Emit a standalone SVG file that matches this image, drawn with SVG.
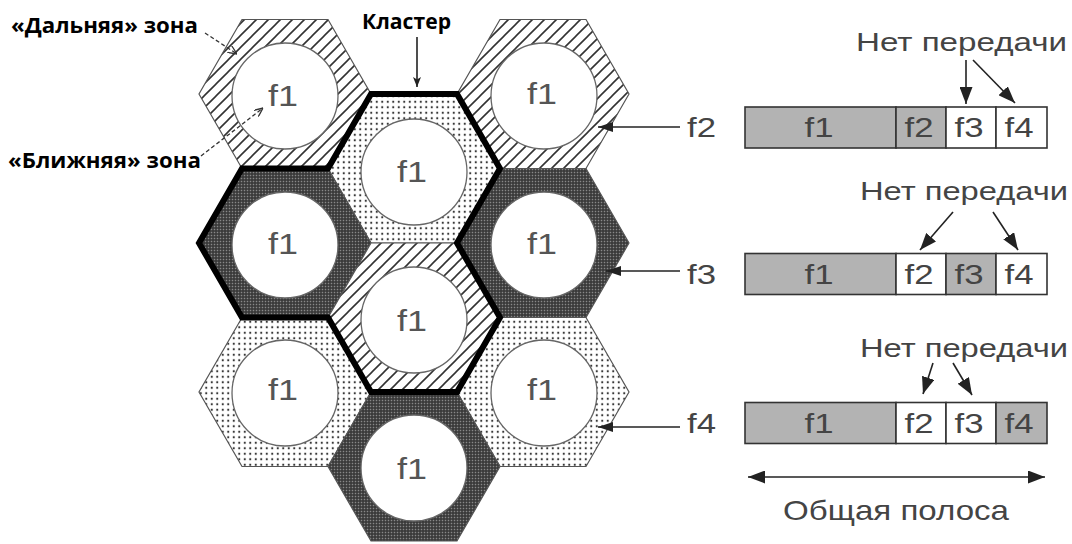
<svg xmlns="http://www.w3.org/2000/svg" width="1072" height="544" viewBox="0 0 1072 544">
<style>
.hex{stroke:#555;stroke-width:1.2}
.cir{fill:#fff;stroke:#666;stroke-width:1.3}
.ft{font-family:"Liberation Sans",Arial,sans-serif;font-size:29px;fill:#555;text-anchor:middle}
.bt{font-family:"Liberation Sans",Arial,sans-serif;font-size:28px;fill:#444;text-anchor:middle}
.lt{font-family:"Liberation Sans",Arial,sans-serif;font-size:28px;fill:#444}
.nt{font-family:"Liberation Sans",Arial,sans-serif;font-size:26px;fill:#444}
.bold{font-family:"Open Sans","Noto Sans",sans-serif;font-weight:700;font-size:21px;fill:#000}
.seg{stroke:#333;stroke-width:1.6}
.gray{fill:#b3b3b3}
.white{fill:#fff}
.ar{stroke:#222;stroke-width:1.6;fill:none}
.dash{stroke:#333;stroke-width:1.3;fill:none;stroke-dasharray:4 2.5}
</style>
<defs>
<pattern id="hatch" patternUnits="userSpaceOnUse" width="12" height="12">
<rect width="12" height="12" fill="#fff"/>
<path d="M0,12 L12,0 M-3,3 L3,-3 M9,15 L15,9" stroke="#333" stroke-width="1.6"/>
</pattern>
<pattern id="dark" patternUnits="userSpaceOnUse" width="3" height="3">
<rect width="3" height="3" fill="#363636"/>
<rect x="0.75" y="0.75" width="1.5" height="1.5" fill="#888"/>
</pattern>
<pattern id="dots" patternUnits="userSpaceOnUse" width="5.5" height="5.5">
<rect width="5.5" height="5.5" fill="#fff"/>
<circle cx="2.75" cy="2.75" r="1.1" fill="#333"/>
</pattern>
<marker id="big" markerUnits="userSpaceOnUse" markerWidth="17" markerHeight="13" refX="17" refY="6.5" orient="auto-start-reverse">
<path d="M0,0 L17,6.5 L0,13 z" fill="#222"/>
</marker>
<marker id="mid" markerUnits="userSpaceOnUse" markerWidth="15" markerHeight="10" refX="15" refY="5" orient="auto">
<path d="M0,0 L15,5 L0,10 z" fill="#222"/>
</marker>
<marker id="small" markerUnits="userSpaceOnUse" markerWidth="10" markerHeight="8" refX="10" refY="4" orient="auto">
<path d="M0,0 L10,4 L0,8 L2.5,4 z" fill="#222"/>
</marker>
<marker id="tiny" markerUnits="userSpaceOnUse" markerWidth="9" markerHeight="8" refX="9" refY="4" orient="auto">
<path d="M0,0 L9,4 L0,8" fill="none" stroke="#333" stroke-width="1.3"/>
</marker>
</defs>
<rect width="1072" height="544" fill="#fff"/>

<g id="hexA">
<polygon class="hex" fill="url(#hatch)" points="371,94 328,168.5 242,168.5 199,94 242,19.5 328,19.5"/>
<circle class="cir" cx="285" cy="96" r="53"/>
<text class="ft" x="283" y="106" textLength="30" lengthAdjust="spacingAndGlyphs">f1</text>
</g>
<g id="hexB">
<polygon class="hex" fill="url(#hatch)" points="629,94 586,168.5 500,168.5 457,94 500,19.5 586,19.5"/>
<circle class="cir" cx="544" cy="96" r="53"/>
<text class="ft" x="542" y="104" textLength="30" lengthAdjust="spacingAndGlyphs">f1</text>
</g>
<g id="hexC">
<polygon class="hex" fill="url(#dots)" points="500,168.5 457,243 371,243 328,168.5 371,94 457,94"/>
<circle class="cir" cx="414" cy="172" r="53"/>
<text class="ft" x="412" y="182" textLength="30" lengthAdjust="spacingAndGlyphs">f1</text>
</g>
<g id="hexD">
<polygon class="hex" fill="url(#dark)" points="371,243 328,317.5 242,317.5 199,243 242,168.5 328,168.5"/>
<circle class="cir" cx="285" cy="245" r="53"/>
<text class="ft" x="283" y="254" textLength="30" lengthAdjust="spacingAndGlyphs">f1</text>
</g>
<g id="hexE">
<polygon class="hex" fill="url(#dark)" points="629,243 586,317.5 500,317.5 457,243 500,168.5 586,168.5"/>
<circle class="cir" cx="544" cy="245" r="53"/>
<text class="ft" x="542" y="254" textLength="30" lengthAdjust="spacingAndGlyphs">f1</text>
</g>
<g id="hexF">
<polygon class="hex" fill="url(#hatch)" points="500,317.5 457,392 371,392 328,317.5 371,243 457,243"/>
<circle class="cir" cx="414" cy="320" r="53"/>
<text class="ft" x="412" y="331" textLength="30" lengthAdjust="spacingAndGlyphs">f1</text>
</g>
<g id="hexG">
<polygon class="hex" fill="url(#dots)" points="371,392 328,466.5 242,466.5 199,392 242,317.5 328,317.5"/>
<circle class="cir" cx="285" cy="393" r="53"/>
<text class="ft" x="283" y="400" textLength="30" lengthAdjust="spacingAndGlyphs">f1</text>
</g>
<g id="hexH">
<polygon class="hex" fill="url(#dots)" points="629,392 586,466.5 500,466.5 457,392 500,317.5 586,317.5"/>
<circle class="cir" cx="544" cy="393" r="53"/>
<text class="ft" x="542" y="400" textLength="30" lengthAdjust="spacingAndGlyphs">f1</text>
</g>
<g id="hexI">
<polygon class="hex" fill="url(#dark)" points="500,466.5 457,541 371,541 328,466.5 371,392 457,392"/>
<circle class="cir" cx="414" cy="468" r="53"/>
<text class="ft" x="412" y="479" textLength="30" lengthAdjust="spacingAndGlyphs">f1</text>
</g>

<g id="cluster">
<path d="M371,94 L457,94 L500,168.5 L457,243 L500,317.5 L457,392 L371,392 L328,317.5 L242,317.5 L199,243 L242,168.5 L328,168.5 Z" fill="none" stroke="#000" stroke-width="6" stroke-linejoin="miter"/>
</g>

<g id="labels-left">
<text class="bold" x="11" y="33" textLength="187" lengthAdjust="spacingAndGlyphs">«Дальняя» зона</text>
<text class="bold" x="8" y="168" textLength="193" lengthAdjust="spacingAndGlyphs">«Ближняя» зона</text>
<text class="bold" x="362" y="29" textLength="89" lengthAdjust="spacingAndGlyphs">Кластер</text>
</g>

<g id="bar1">
<rect class="seg gray" x="745" y="107" width="151" height="41"/>
<rect class="seg gray" x="896" y="107" width="50" height="41"/>
<rect class="seg white" x="946" y="107" width="50" height="41"/>
<rect class="seg white" x="996" y="107" width="51" height="41"/>
<text class="bt" x="819" y="137" textLength="29" lengthAdjust="spacingAndGlyphs">f1</text>
<text class="bt" x="919" y="137" textLength="29" lengthAdjust="spacingAndGlyphs">f2</text>
<text class="bt" x="969" y="137" textLength="29" lengthAdjust="spacingAndGlyphs">f3</text>
<text class="bt" x="1019" y="137" textLength="29" lengthAdjust="spacingAndGlyphs">f4</text>
</g>
<g id="bar2">
<rect class="seg gray" x="745" y="253.5" width="151" height="41"/>
<rect class="seg white" x="896" y="253.5" width="50" height="41"/>
<rect class="seg gray" x="946" y="253.5" width="50" height="41"/>
<rect class="seg white" x="996" y="253.5" width="51" height="41"/>
<text class="bt" x="819" y="284" textLength="29" lengthAdjust="spacingAndGlyphs">f1</text>
<text class="bt" x="919" y="284" textLength="29" lengthAdjust="spacingAndGlyphs">f2</text>
<text class="bt" x="969" y="284" textLength="29" lengthAdjust="spacingAndGlyphs">f3</text>
<text class="bt" x="1019" y="284" textLength="29" lengthAdjust="spacingAndGlyphs">f4</text>
</g>
<g id="bar3">
<rect class="seg gray" x="745" y="402.5" width="151" height="41"/>
<rect class="seg white" x="896" y="402.5" width="50" height="41"/>
<rect class="seg white" x="946" y="402.5" width="50" height="41"/>
<rect class="seg gray" x="996" y="402.5" width="51" height="41"/>
<text class="bt" x="819" y="433" textLength="29" lengthAdjust="spacingAndGlyphs">f1</text>
<text class="bt" x="919" y="433" textLength="29" lengthAdjust="spacingAndGlyphs">f2</text>
<text class="bt" x="969" y="433" textLength="29" lengthAdjust="spacingAndGlyphs">f3</text>
<text class="bt" x="1019" y="433" textLength="29" lengthAdjust="spacingAndGlyphs">f4</text>
</g>

<g id="labels-right">
<text class="lt" x="687" y="137" textLength="29" lengthAdjust="spacingAndGlyphs">f2</text>
<text class="lt" x="687" y="284" textLength="29" lengthAdjust="spacingAndGlyphs">f3</text>
<text class="lt" x="687" y="433" textLength="29" lengthAdjust="spacingAndGlyphs">f4</text>
<text class="nt" x="856" y="51" textLength="211" lengthAdjust="spacingAndGlyphs">Нет передачи</text>
<text class="nt" x="860" y="200" textLength="208" lengthAdjust="spacingAndGlyphs">Нет передачи</text>
<text class="nt" x="860" y="357" textLength="208" lengthAdjust="spacingAndGlyphs">Нет передачи</text>
<text class="lt" x="783" y="520" textLength="226" lengthAdjust="spacingAndGlyphs">Общая полоса</text>
</g>

<g id="connectors">
<line class="dash" x1="205" y1="33" x2="237" y2="54" marker-end="url(#tiny)"/>
<line class="dash" x1="201" y1="156" x2="263" y2="108" marker-end="url(#tiny)"/>
<line class="ar" x1="417" y1="37" x2="417" y2="87" marker-end="url(#small)"/>
<line class="ar" x1="680" y1="127" x2="598" y2="127" marker-end="url(#mid)"/>
<line class="ar" x1="680" y1="271" x2="606" y2="271" marker-end="url(#mid)"/>
<line class="ar" x1="680" y1="427" x2="598" y2="427" marker-end="url(#mid)"/>
<line class="ar" x1="966" y1="60" x2="966" y2="104" marker-end="url(#big)"/>
<line class="ar" x1="973" y1="60" x2="1015" y2="103" marker-end="url(#big)"/>
<line class="ar" x1="953" y1="212" x2="920" y2="250" marker-end="url(#big)"/>
<line class="ar" x1="993" y1="212" x2="1018" y2="250" marker-end="url(#big)"/>
<line class="ar" x1="933" y1="363" x2="923" y2="394" marker-end="url(#big)"/>
<line class="ar" x1="953" y1="363" x2="972" y2="395" marker-end="url(#big)"/>
<line class="ar" x1="748" y1="477" x2="1045" y2="477" marker-start="url(#big)" marker-end="url(#big)"/>
</g>
</svg>
